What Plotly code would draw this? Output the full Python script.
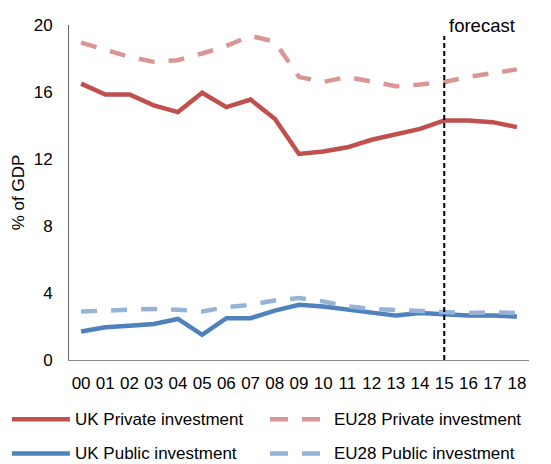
import plotly.graph_objects as go

years = ['00', '01', '02', '03', '04', '05', '06', '07', '08', '09',
         '10', '11', '12', '13', '14', '15', '16', '17', '18']

uk_private = [16.5, 15.85, 15.85, 15.2, 14.8, 15.95, 15.1, 15.55, 14.4, 12.3,
              12.45, 12.7, 13.15, 13.5, 13.8, 14.3, 14.3, 14.2, 13.9]
eu_private = [18.95, 18.5, 18.1, 17.8, 17.9, 18.3, 18.75, 19.35, 19.0, 16.9,
              16.6, 16.9, 16.65, 16.35, 16.45, 16.6, 16.9, 17.1, 17.35]
uk_public = [1.7, 1.95, 2.05, 2.15, 2.45, 1.5, 2.5, 2.5, 2.95, 3.3,
             3.2, 3.0, 2.8, 2.65, 2.8, 2.7, 2.65, 2.65, 2.6]
eu_public = [2.9, 2.95, 2.95, 3.05, 3.0, 2.9, 3.15, 3.3, 3.55, 3.7,
             3.5, 3.2, 3.05, 3.0, 2.95, 2.9, 2.8, 2.85, 2.8]

FONT = 'Liberation Sans, Arial, sans-serif'
DASH = '16px,14px'

# (name, values, colour, dash, legend column, legend row)
series = [
    ('UK Private investment', uk_private, '#C0504D', 'solid', 0, 0),
    ('EU28 Private investment', eu_private, '#DA9694', DASH, 1, 0),
    ('UK Public investment', uk_public, '#4F81BD', 'solid', 0, 1),
    ('EU28 Public investment', eu_public, '#95B3D7', DASH, 1, 1),
]

fig = go.Figure()

for name, vals, color, dash, col, row in series:
    fig.add_trace(go.Scatter(x=years, y=vals, mode='lines', name=name,
                             line=dict(color=color, width=4.5, dash=dash),
                             showlegend=False))

# hand-made legend below the plot (paper coords)
leg_line_x = [(-0.124, 0.002), (0.437, 0.546)]
leg_text_x = [0.008, 0.572]
leg_y = [-0.177, -0.279]
for name, vals, color, dash, col, row in series:
    x0, x1 = leg_line_x[col]
    fig.add_shape(type='line', xref='paper', yref='paper', x0=x0, x1=x1,
                  y0=leg_y[row], y1=leg_y[row],
                  line=dict(color=color, width=4.5, dash='18px,14px' if dash != 'solid' else 'solid'))
    fig.add_annotation(x=leg_text_x[col], y=leg_y[row], xref='paper', yref='paper',
                       text=name, showarrow=False, xanchor='left', yanchor='middle',
                       font=dict(size=17, color='black'))

# forecast marker
fig.add_shape(type='line', xref='x', yref='paper', x0='15', x1='15', y0=0, y1=0.967,
              line=dict(color='black', width=2, dash='5px,3px'))
fig.add_annotation(x='15', y=1.0, xref='x', yref='paper', text='forecast',
                   showarrow=False, xanchor='left', yanchor='middle', xshift=3,
                   font=dict(size=18.5, color='black'))

fig.update_xaxes(type='category', range=[-0.5, 18.5], showline=True, linecolor='#888888',
                 linewidth=1, showgrid=False, ticks='', tickfont=dict(size=17, color='black'),
                 ticklabelstandoff=8, automargin=False)
fig.update_yaxes(range=[0, 20], tickvals=[0, 4, 8, 12, 16, 20], showline=True,
                 linecolor='#666666', linewidth=1, showgrid=False, zeroline=False, ticks='',
                 tickfont=dict(size=17, color='black'), ticklabelstandoff=12,
                 title=dict(text='% of GDP', font=dict(size=17, color='black'), standoff=4),
                 automargin=False)

# page body adds 8px margin, so the figure is 8px smaller than the window
fig.update_layout(
    width=543, height=456,
    margin=dict(l=61, r=22, t=17, b=104),
    plot_bgcolor='white', paper_bgcolor='white',
    font=dict(family=FONT, size=17, color='black'),
    showlegend=False,
)

fig.write_html('out.html')
